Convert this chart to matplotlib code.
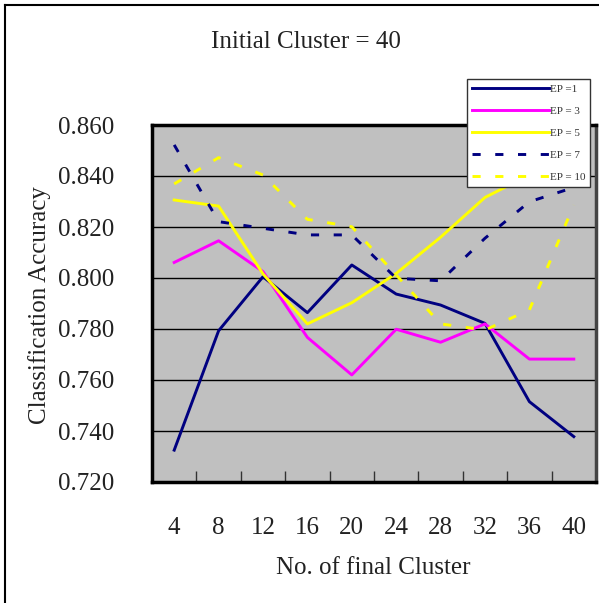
import matplotlib
matplotlib.use("Agg")
import matplotlib.pyplot as plt
from matplotlib.lines import Line2D

plt.rcParams['font.family'] = ['Liberation Serif', 'DejaVu Serif']

categories = ["4", "8", "12", "16", "20", "24", "28", "32", "36", "40"]
ep1 = [0.7325, 0.7793, 0.8005, 0.7864, 0.8051, 0.7937, 0.7894, 0.7822, 0.7515, 0.7378]
ep3 = [0.8061, 0.8146, 0.8025, 0.7767, 0.7620, 0.7799, 0.7748, 0.7820, 0.7682, 0.7682]
ep5 = [0.8306, 0.8282, 0.8016, 0.7820, 0.7903, 0.8018, 0.8160, 0.8316, 0.8404, 0.8450]
ep7 = [0.8522, 0.8221, 0.8195, 0.8169, 0.8169, 0.7999, 0.7989, 0.8156, 0.8299, 0.8355]
ep10 = [0.8369, 0.8472, 0.8404, 0.8230, 0.8201, 0.8012, 0.7820, 0.7796, 0.7875, 0.8286]
yticks = [0.720, 0.740, 0.760, 0.780, 0.800, 0.820, 0.840, 0.860]
labels = ["EP =1", "EP = 3", "EP = 5", "EP = 7", "EP = 10"]

W, H = 599, 603
fig = plt.figure(figsize=(W / 100, H / 100), dpi=100)
ax = fig.add_axes([152 / W, 1 - 482 / H, (596 - 152) / W, (482 - 125) / H])
ax.set_facecolor("#C0C0C0")

x = list(range(len(categories)))
navy = "#000080"
mag = "#FF00FF"
yel = "#FFFF00"
lw = 2.1
dash = (0, (2.8, 5.0))
ax.plot(x, ep1, color=navy, lw=lw, label=labels[0], zorder=3)
ax.plot(x, ep3, color=mag, lw=lw, label=labels[1], zorder=3)
ax.plot(x, ep5, color=yel, lw=lw, label=labels[2], zorder=3)
ax.plot(x, ep7, color=navy, lw=2.1, linestyle=dash, label=labels[3], zorder=3)
ax.plot(x, ep10, color=yel, lw=2.1, linestyle=dash, label=labels[4], zorder=3)

ax.set_xlim(-0.5, len(categories) - 0.5)
ax.set_ylim(0.720, 0.860)
ax.set_yticks(yticks)
ax.set_yticklabels([f"{v:.3f}" for v in yticks])
ax.yaxis.grid(True, color="black", lw=1.0)
ax.set_axisbelow(True)
ax.tick_params(axis="y", length=0, pad=27, labelsize=18, labelcolor="#222222")

ax.set_xticks(x)
ax.set_xticklabels(categories)
ax.tick_params(axis="x", length=0, pad=25, labelsize=18, labelcolor="#222222")
ax.set_xticks([i + 0.5 for i in range(len(categories) - 1)], minor=True)
ax.tick_params(axis="x", which="minor", direction="in", length=8, width=1, color="#333333")

for s in ax.spines.values():
    s.set_linewidth(2.5)
    s.set_color("black")
ax.spines["right"].set_color("#444444")

fig.text(306 / W, 1 - 42 / H, "Initial Cluster = 40", ha="center", va="center",
         fontsize=18, color="#222222")
fig.text(373 / W, 1 - 568 / H, "No. of final Cluster", ha="center", va="center",
         fontsize=18, color="#222222")
fig.text(40 / W, 1 - 305 / H, "Classification Accuracy", ha="center", va="center",
         rotation=90, fontsize=18, color="#222222")

# outer frame (left and top)
fig.add_artist(Line2D([5 / W, 5 / W], [0, 1 - 5 / H], transform=fig.transFigure, color="black", lw=1.5))
fig.add_artist(Line2D([5 / W, 1], [1 - 5 / H, 1 - 5 / H], transform=fig.transFigure, color="black", lw=1.5))

leg = fig.legend(loc="upper left", bbox_to_anchor=(467 / W, 1 - 79 / H), fontsize=8,
                 handlelength=6.9, handletextpad=0.1, labelspacing=1.1, borderpad=0.45,
                 borderaxespad=0, fancybox=False, framealpha=1, edgecolor="#333333",
                 facecolor="white")
leg.get_frame().set_linewidth(1.0)
for t in leg.get_texts():
    t.set_color("#333333")

fig.savefig("out.png", dpi=100)
